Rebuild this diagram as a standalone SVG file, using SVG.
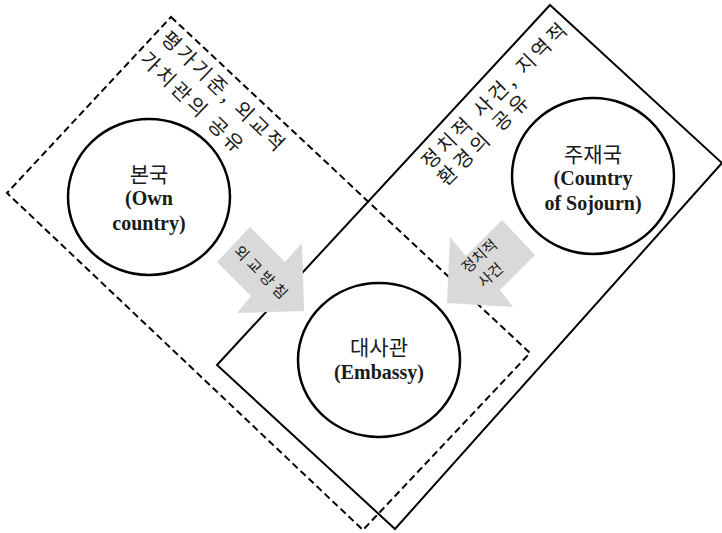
<svg xmlns="http://www.w3.org/2000/svg" width="722" height="533" viewBox="0 0 722 533">
<style>
.frame{fill:none;stroke:#000;stroke-width:2}
.dash{stroke-dasharray:7 4}
.node{fill:#fff;stroke:#000;stroke-width:2.5}
.ko{font-family:"Noto Sans CJK KR","Noto Sans CJK SC",sans-serif;fill:#1a1a1a}
.en{font-family:"Liberation Serif","Times New Roman",serif;font-weight:bold;fill:#1a1a1a}
.arrow{fill:#d9d9d9}
</style>
<rect width="722" height="533" fill="#fff"/>
<g id="frames">
<polygon id="home-frame" class="frame dash" points="171,17 530,353 363,530 7,193"/>
<polygon id="host-frame" class="frame" points="550,5 722,163 395,529 217,365"/>
</g>
<g id="frame-labels">
<text class="ko" font-size="20" text-anchor="middle" textLength="162" lengthAdjust="spacing" transform="translate(218,96) rotate(44)">평가기준, 외교적</text>
<text class="ko" font-size="20" text-anchor="middle" textLength="134" lengthAdjust="spacing" transform="translate(187,107) rotate(44)">가치관의 공유</text>
<text class="ko" font-size="20" text-anchor="middle" textLength="196" lengthAdjust="spacing" transform="translate(499,101) rotate(-45)">정치적 사건, 지역적</text>
<text class="ko" font-size="20" text-anchor="middle" textLength="119" lengthAdjust="spacing" transform="translate(488,145) rotate(-45)">환경의 공유</text>
</g>
<g id="connectors">
<g id="arrow-policy">
<polygon class="arrow" points="250,227 285,262 302,243 304,311 237,313 251,296 217,262"/>
<text class="ko" font-size="15" text-anchor="middle" textLength="68" lengthAdjust="spacing" transform="translate(257,276) rotate(45)">외교방침</text>
</g>
<g id="arrow-events">
<polygon class="arrow" points="502,220 535,255 500,290 513,307 447,303 450,237 466,256"/>
<text class="ko" font-size="15" text-anchor="middle" transform="translate(483,260) rotate(-42)">정치적</text>
<text class="ko" font-size="15" text-anchor="middle" transform="translate(494,279) rotate(-42)">사건</text>
</g>
</g>
<g id="own-country">
<ellipse class="node" cx="149" cy="197" rx="81" ry="78"/>
<text class="ko" font-size="21" x="149" y="182" text-anchor="middle">본국</text>
<text class="en" font-size="20" x="149" y="205" text-anchor="middle">(Own</text>
<text class="en" font-size="20" x="149" y="230" text-anchor="middle">country)</text>
</g>
<g id="embassy">
<ellipse class="node" cx="379" cy="360" rx="81" ry="77"/>
<text class="ko" font-size="21" x="379" y="355" text-anchor="middle">대사관</text>
<text class="en" font-size="20" x="379" y="379" text-anchor="middle">(Embassy)</text>
</g>
<g id="country-of-sojourn">
<ellipse class="node" cx="593" cy="176" rx="81" ry="78"/>
<text class="ko" font-size="21" x="593" y="162" text-anchor="middle">주재국</text>
<text class="en" font-size="20" x="593" y="185" text-anchor="middle">(Country</text>
<text class="en" font-size="20" x="593" y="210" text-anchor="middle">of Sojourn)</text>
</g>
</svg>
